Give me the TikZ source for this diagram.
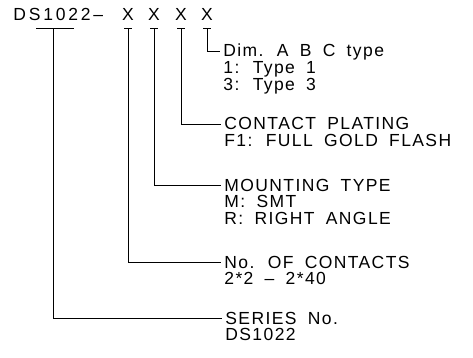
\documentclass[tikz,border=0pt]{standalone}
\usepackage{fontspec}
\setmainfont{Liberation Sans}[LetterSpace=8, WordSpace=1.8]
\usetikzlibrary{positioning}

\begin{document}
\begin{tikzpicture}[x=1pt, y=-1pt, line width=0.8pt,
    every node/.style = {font=\fontsize{17.5}{17.5}\selectfont,
      text height=12pt, text depth=0pt, inner xsep=3pt, inner ysep=2pt},
    code/.style = {anchor=base, inner xsep=0pt, inner ysep=7.5pt},
    desc/.style = {anchor=base west},
    more/.style = {anchor=north west}]
    \useasboundingbox (0,0) rectangle (473,358);
    % part number and its fields
    \node[code, anchor=base west] (ds) at (13,21)
      {\addfontfeature{LetterSpace=16}DS1022--};
    \node[code] (x1) at (128,21) {X};
    \node[code] (x2) at (154,21) {X};
    \node[code] (x3) at (181,21) {X};
    \node[code] (x4) at (207,21) {X};
    \coordinate (dsstem) at (53,28.5);
    \draw ([xshift=-17pt]dsstem) -- ([xshift=21pt]dsstem);
    \foreach \n in {1,...,4}
      \draw ([xshift=-4pt]x\n.south) -- ([xshift=4pt]x\n.south);
    % descriptions
    \node[desc] (dimT) at (220,57) {Dim. A B C type};
    \node[more, below=0pt of dimT.south west, anchor=north west] (dim1) {1: Type 1};
    \node[more, below=0pt of dim1.south west, anchor=north west] (dim3) {3: Type 3};
    \node[desc] (platT) at (221,130) {CONTACT PLATING};
    \node[more, below=0pt of platT.south west, anchor=north west] (platF) {F1: FULL GOLD FLASH};
    \node[desc] (mntT) at (221,191) {MOUNTING TYPE};
    \node[more, below=0pt of mntT.south west, anchor=north west] (mntM) {M: SMT};
    \node[more, below=0pt of mntM.south west, anchor=north west] (mntR) {R: RIGHT ANGLE};
    \node[desc] (cntT) at (221,268) {No. OF CONTACTS};
    \node[more, below=0pt of cntT.south west, anchor=north west] (cntR) {2*2 -- 2*40};
    \node[desc] (serT) at (222,324) {SERIES No.};
    \node[more, below=0pt of serT.south west, anchor=north west] (serD) {DS1022};
    % leaders
    \draw (x4.south) |- (dimT.west);
    \draw (x3.south) |- (platT.west);
    \draw (x2.south) |- (mntT.west);
    \draw (x1.south) |- (cntT.west);
    \draw (dsstem) |- (serT.west);
\end{tikzpicture}
\end{document}
